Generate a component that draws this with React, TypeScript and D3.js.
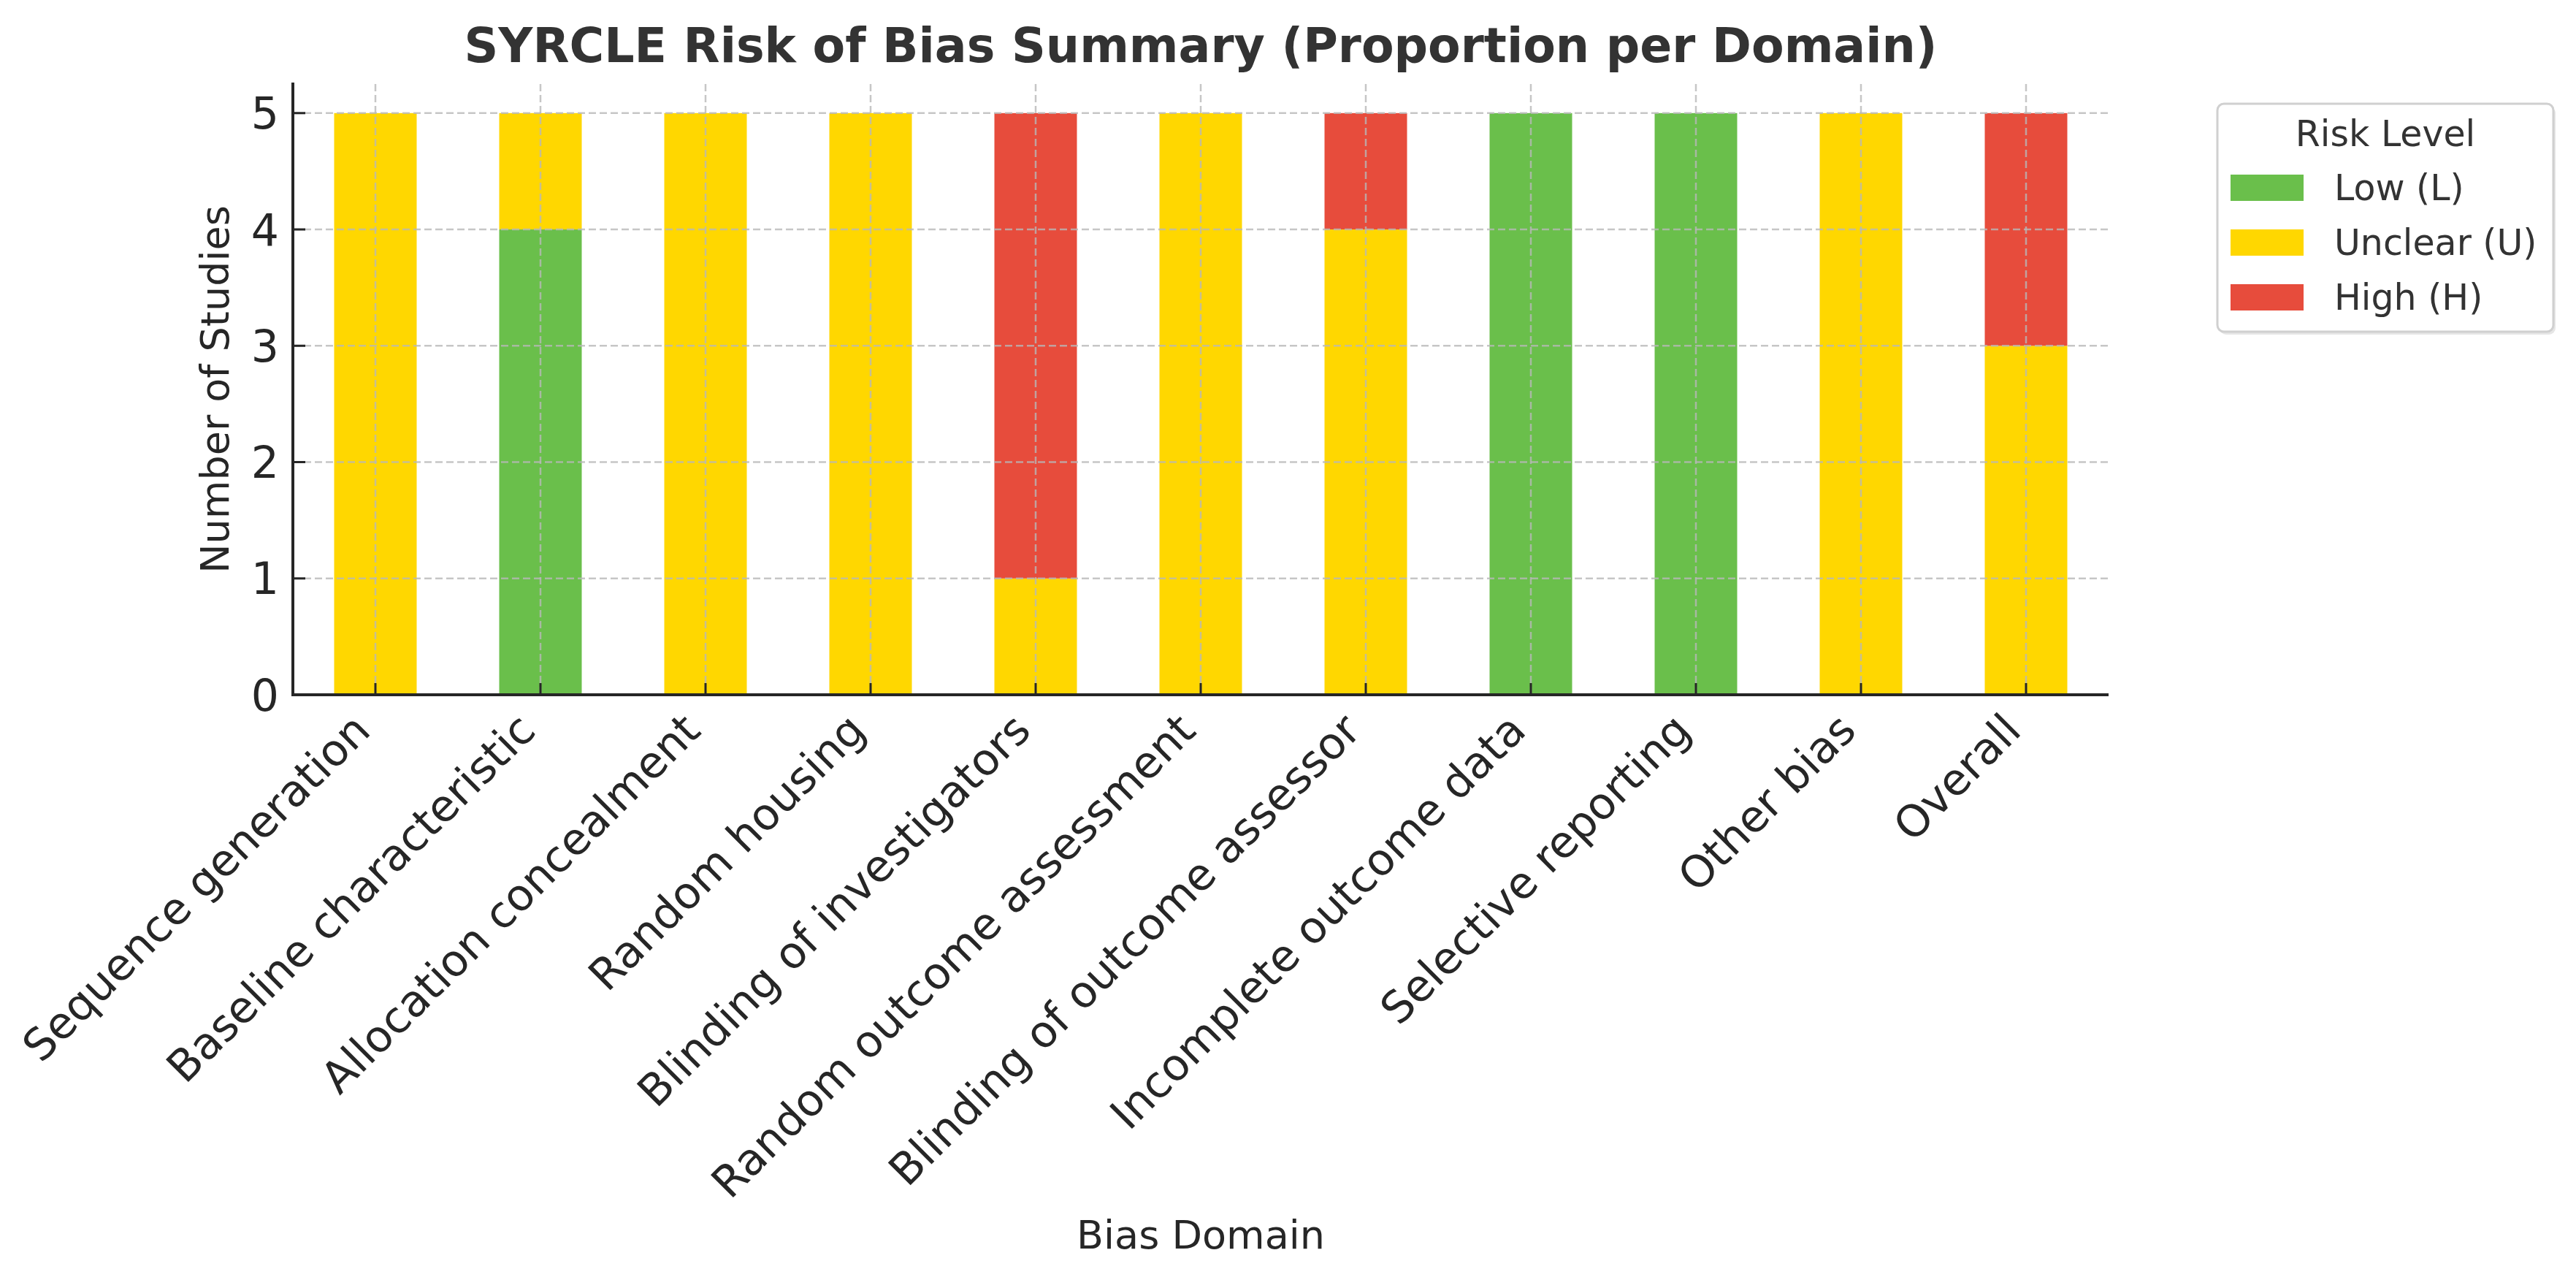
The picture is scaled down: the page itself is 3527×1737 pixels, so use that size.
import React from "react";
import * as d3 from "d3";

const domains = [
  "Sequence generation",
  "Baseline characteristic",
  "Allocation concealment",
  "Random housing",
  "Blinding of investigators",
  "Random outcome assessment",
  "Blinding of outcome assessor",
  "Incomplete outcome data",
  "Selective reporting",
  "Other bias",
  "Overall",
];
const lowCounts = [0, 4, 0, 0, 0, 0, 0, 5, 5, 0, 0];
const unclearCounts = [5, 1, 5, 5, 1, 5, 4, 0, 0, 5, 3];
const highCounts = [0, 0, 0, 0, 4, 0, 1, 0, 0, 0, 2];
const riskKeys = ["low", "unclear", "high"];
const riskLabels = ["Low (L)", "Unclear (U)", "High (H)"];
const riskColors = ["#6abf4b", "#ffd700", "#e74c3c"];
const yTicks = [0, 1, 2, 3, 4, 5];

const W = 3527;
const H = 1737;
const left = 401;
const right = 2887;
const top = 115;
const bottom = 951;
const FONT = "DejaVu Sans, Verdana, sans-serif";

export default function App() {
  const rows = domains.map((d, i) => ({
    domain: d,
    low: lowCounts[i],
    unclear: unclearCounts[i],
    high: highCounts[i],
  }));
  const stacked = d3.stack<any>().keys(riskKeys)(rows);
  const x = d3
    .scaleBand<string>()
    .domain(domains)
    .range([left, right])
    .paddingInner(0.5)
    .paddingOuter(0.25);
  const y = d3.scaleLinear().domain([0, 5.25]).range([bottom, top]);
  const color = d3.scaleOrdinal<string, string>().domain(riskKeys).range(riskColors);
  const cx = (d: string) => (x(d) as number) + x.bandwidth() / 2;

  const legX = 3036;
  const legY = 142;
  const legW = 460;
  const legH = 312;

  return (
    <svg
      width={W}
      height={H}
      viewBox={`0 0 ${W} ${H}`}
      style={{ position: "absolute", left: 0, top: 0, background: "#fff" }}
      fontFamily={FONT}
    >
      <rect x={0} y={0} width={W} height={H} fill="#fff" />
      {/* bars */}
      {stacked.map((layer) => (
        <g key={layer.key} fill={color(layer.key)}>
          {layer.map((seg, i) =>
            seg[1] - seg[0] > 0 ? (
              <rect
                key={i}
                x={x(domains[i])}
                y={y(seg[1])}
                width={x.bandwidth()}
                height={y(seg[0]) - y(seg[1])}
              />
            ) : null
          )}
        </g>
      ))}
      {/* grid */}
      <g stroke="#b8b8b8" strokeOpacity={0.8} strokeWidth={2.5} strokeDasharray="10,5">
        {yTicks.map((t) => (
          <line key={"gy" + t} x1={left} x2={right} y1={y(t)} y2={y(t)} />
        ))}
        {domains.map((d) => (
          <line key={"gx" + d} x1={cx(d)} x2={cx(d)} y1={top} y2={bottom} />
        ))}
      </g>
      {/* spines */}
      <line x1={left} x2={left} y1={top - 2} y2={bottom + 2} stroke="#262626" strokeWidth={4} />
      <line x1={left - 2} x2={right} y1={bottom} y2={bottom} stroke="#262626" strokeWidth={4} />
      {/* ticks */}
      <g stroke="#262626" strokeWidth={3}>
        {yTicks.map((t) => (
          <line key={"ty" + t} x1={left} x2={left + 17} y1={y(t)} y2={y(t)} />
        ))}
        {domains.map((d) => (
          <line key={"tx" + d} x1={cx(d)} x2={cx(d)} y1={bottom} y2={bottom - 16} />
        ))}
      </g>
      {/* y tick labels */}
      <g fontSize={60} fill="#262626" textAnchor="end">
        {yTicks.map((t) => (
          <text key={"ly" + t} x={382} y={y(t)} dy="0.36em">
            {t}
          </text>
        ))}
      </g>
      {/* x tick labels */}
      <g fontSize={60} fill="#262626" textAnchor="end">
        {domains.map((d) => (
          <text key={"lx" + d} transform={`translate(${cx(d) - 4},${bottom + 52}) rotate(-45)`}>
            {d}
          </text>
        ))}
      </g>
      {/* axis labels */}
      <text
        x={(left + right) / 2}
        y={1709}
        fontSize={54}
        fill="#262626"
        textAnchor="middle"
      >
        Bias Domain
      </text>
      <text
        transform={`translate(313,${(top + bottom) / 2}) rotate(-90)`}
        fontSize={54}
        fill="#262626"
        textAnchor="middle"
      >
        Number of Studies
      </text>
      {/* title */}
      <text
        x={(left + right) / 2}
        y={85}
        fontSize={65}
        fontWeight="bold"
        fill="#333333"
        textAnchor="middle"
      >
        SYRCLE Risk of Bias Summary (Proportion per Domain)
      </text>
      {/* legend */}
      <rect x={legX + 3} y={legY + 4} width={legW} height={legH} rx={9} fill="#e6e6e6" />
      <rect
        x={legX}
        y={legY}
        width={legW}
        height={legH}
        rx={9}
        fill="#fff"
        stroke="#d0d0d0"
        strokeWidth={3}
      />
      <text x={legX + legW / 2} y={200} fontSize={49} fill="#333" textAnchor="middle">
        Risk Level
      </text>
      {riskLabels.map((lab, i) => (
        <g key={lab}>
          <rect x={3054} y={239 + i * 75} width={100} height={36} fill={riskColors[i]} />
          <text x={3196} y={274 + i * 75} fontSize={49} fill="#333">
            {lab}
          </text>
        </g>
      ))}
    </svg>
  );
}
